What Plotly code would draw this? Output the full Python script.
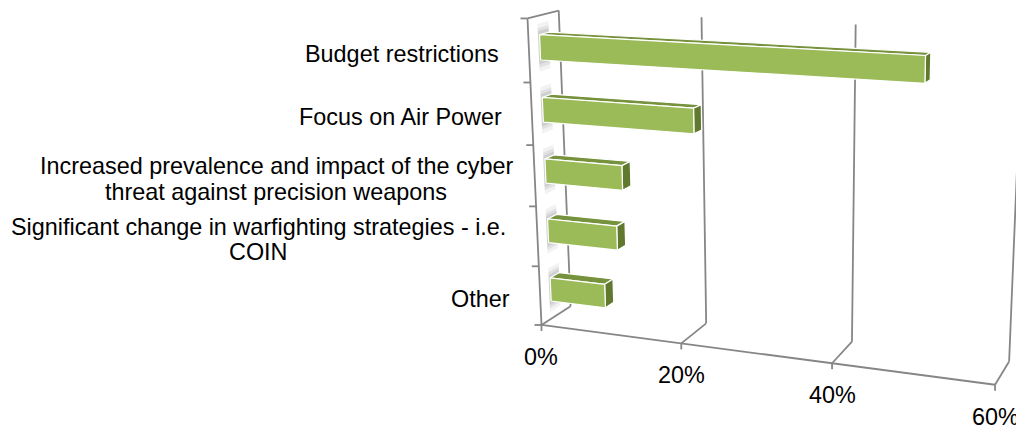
import numpy as np
import plotly.graph_objects as go

# ---- data ----
categories = [
    "Budget restrictions",
    "Focus on Air Power",
    "Increased prevalence and impact of the cyber\nthreat against precision weapons",
    "Significant change in warfighting strategies - i.e.\nCOIN",
    "Other",
]
values = [0.50, 0.21, 0.11, 0.10, 0.08]
tick_values = [0.0, 0.2, 0.4, 0.6]
tick_labels = ["0%", "20%", "40%", "60%"]

# ---- 3D frame and perspective camera ----
X_MAX = 0.6          # value axis maximum
FONT = "Liberation Sans, Arial, sans-serif"
FS = 23.4
GRID = "#868686"

# world (value, height, depth) of the box corners and where they land on the page
frame_world = [(0, 0, 0), (0, 1, 0), (0, 1, 1), (0, 0, 1),
               (0.2, 0, 0), (0.4, 0, 0), (0.6, 0, 0),
               (0.2, 0, 1), (0.4, 0, 1), (0.6, 0, 1),
               (0.2, 1, 1), (0.4, 1, 1), (0.6, 0.56, 1)]
frame_page = [(541.7, 324.3), (526.7, 18.3), (558.3, 11.7), (570.0, 306.0),
              (682.3, 343.3), (832.3, 363.3), (994.3, 385.7),
              (706.0, 323.0), (852.3, 342.7), (1009.0, 361.7),
              (702.7, 16.7), (856.0, 25.0), (1016.0, 180.0)]


def fit_camera(world, page):
    rows = []
    for (X, Y, Z), (u, v) in zip(world, page):
        X = X / X_MAX
        u, v = u / 1000.0, v / 1000.0
        rows.append([X, Y, Z, 1, 0, 0, 0, 0, -u * X, -u * Y, -u * Z, -u])
        rows.append([0, 0, 0, 0, X, Y, Z, 1, -v * X, -v * Y, -v * Z, -v])
    _, _, vt = np.linalg.svd(np.array(rows, dtype=float))
    return vt[-1].reshape(3, 4)


P = fit_camera(frame_world, frame_page)


def project(x, y, z):
    h = P @ np.array([x / X_MAX, y, z, 1.0])
    return h[0] / h[2] * 1000.0, h[1] / h[2] * 1000.0


def poly(points3d):
    pts = [project(*p) for p in points3d]
    pts.append(pts[0])
    return [p[0] for p in pts], [p[1] for p in pts]


fig = go.Figure()


def add_line(p0, p1, color=GRID, width=1.8):
    fig.add_trace(go.Scatter(x=[p0[0], p1[0]], y=[p0[1], p1[1]], mode="lines",
                             line=dict(color=color, width=width),
                             hoverinfo="skip", showlegend=False))


def add_face(points3d, fill, line_color="white", line_width=1.2, opacity=1.0):
    xs, ys = poly(points3d)
    fig.add_trace(go.Scatter(x=xs, y=ys, mode="lines", fill="toself",
                             fillcolor=fill, opacity=opacity,
                             line=dict(color=line_color, width=line_width),
                             hoverinfo="skip", showlegend=False))


# left wall edges
add_line(project(0, 0, 0), project(0, 1, 0))
add_line(project(0, 1, 0), project(0, 1, 1))
add_line(project(0, 1, 1), project(0, 0, 1))
add_line(project(0, 0, 0), project(0, 0, 1))
# floor front edge
add_line(project(0, 0, 0), project(X_MAX, 0, 0))
# back wall and floor gridlines
for t in tick_values[1:]:
    add_line(project(t, 0, 0), project(t, 0, 1))
    add_line(project(t, 0, 1), project(t, 1, 1))
# value ticks (down) and category ticks (left)
for t in tick_values:
    px, py = project(t, 0, 0)
    add_line((px, py), (px, py + 6))
n = len(categories)
for k in range(n + 1):
    px, py = project(0, k / n, 0)
    add_line((px - 7, py), (px, py))

# ---- bars ----
BAND = 1.0 / n
BAR_FRAC = 0.4       # bar thickness relative to band
Z0, Z1 = 0.35, 0.65  # bar depth span
FRONT, TOP, END = "#9BBB59", "#76923C", "#60792F"

for i, v in enumerate(values):
    yc = 1.0 - (i + 0.5) * BAND
    y0, y1 = yc - BAND * BAR_FRAC / 2, yc + BAND * BAR_FRAC / 2
    # soft shadow on the side wall
    for grow, op in [(0.035, 0.10), (0.022, 0.14), (0.012, 0.18)]:
        add_face([(0, y0 - grow, Z0 - 0.05), (0, y1 + grow, Z0 - 0.05),
                  (0, y1 + grow, Z1), (0, y0 - grow, Z1)],
                 "#7f7f7f", line_color="rgba(0,0,0,0)", line_width=0, opacity=op)
    add_face([(0, y1, Z0), (v, y1, Z0), (v, y1, Z1), (0, y1, Z1)], TOP)
    add_face([(v, y0, Z0), (v, y1, Z0), (v, y1, Z1), (v, y0, Z1)], END)
    add_face([(0, y0, Z0), (v, y0, Z0), (v, y1, Z0), (0, y1, Z0)], FRONT)

# ---- text ----
annotations = []
for t, lab in zip(tick_values, tick_labels):
    px, py = project(t, 0, 0)
    annotations.append(dict(x=px, y=py + 32, text=lab, showarrow=False,
                            xanchor="center", yanchor="middle",
                            font=dict(family=FONT, size=FS, color="black")))

LINE_H = 25.5
label_centers = [None, None, 276.0, 258.0, None]
for i, lab in enumerate(categories):
    yc = 1.0 - (i + 0.5) * BAND
    px, py = project(0, yc, 0)
    lines = lab.split("\n")
    if len(lines) == 1:
        annotations.append(dict(x=px - 28, y=py + 3, text=lab, showarrow=False,
                                xanchor="right", yanchor="middle",
                                font=dict(family=FONT, size=FS, color="black")))
    else:
        top = py + 3 - LINE_H * (len(lines) - 1) / 2
        for j, ln in enumerate(lines):
            annotations.append(dict(x=label_centers[i], y=top + j * LINE_H, text=ln,
                                    showarrow=False, xanchor="center", yanchor="middle",
                                    font=dict(family=FONT, size=FS, color="black")))

fig.update_layout(
    width=1016, height=426,
    margin=dict(l=0, r=0, t=0, b=0),
    paper_bgcolor="white", plot_bgcolor="white",
    xaxis=dict(range=[0, 1016], visible=False, fixedrange=True),
    yaxis=dict(range=[426, 0], visible=False, fixedrange=True),
    showlegend=False,
    annotations=annotations,
)

fig.write_html("out.html")
